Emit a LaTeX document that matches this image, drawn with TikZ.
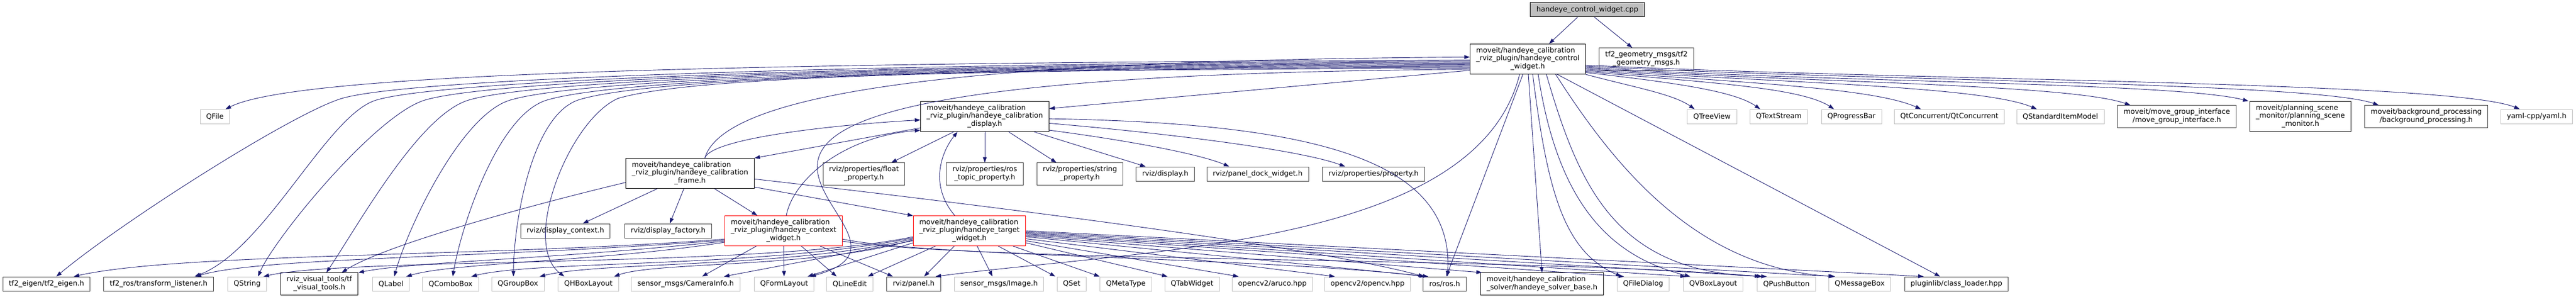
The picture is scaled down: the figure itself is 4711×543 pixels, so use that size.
\documentclass[tikz,border=0pt]{standalone}
\usepackage{fontspec}
\setmainfont{DejaVu Sans}
\usetikzlibrary{arrows.meta}
\definecolor{edgeblue}{HTML}{191970}
\definecolor{greyext}{HTML}{BFBFBF}
\definecolor{greytag}{HTML}{404040}
\newcommand{\lblfont}{\fontsize{13}{14.7}\selectfont}
\newcommand{\mlabel}[2]{\begin{tabular}{@{}l@{}}#1\\\multicolumn{1}{@{}c@{}}{#2}\end{tabular}}

\begin{document}
\begin{tikzpicture}[x=1pt, y=-1pt, >={Triangle[length=10pt,width=7pt]},
  hdr/.style={draw=black, fill=white, line width=1pt, font=\lblfont, inner xsep=11pt, inner ysep=5.5pt, minimum height=26pt},
  taghdr/.style={hdr, draw=greytag},
  syshdr/.style={hdr, draw=greyext},
  redhdr/.style={hdr, draw=red},
  srcfile/.style={hdr, fill=greyext},
  inc/.style={->, draw=edgeblue, line width=0.9pt}]
\useasboundingbox[fill=white] (0,0) rectangle (4711,543);
% nodes
\node[srcfile] (cpp) at (2903,18) {handeye\_control\_widget.cpp};
\node[hdr] (cw) at (2794,108) {\mlabel{moveit/handeye\_calibration\\\_rviz\_plugin/handeye\_control}{\_widget.h}};
\node[taghdr] (tfgeo) at (3011,108) {\mlabel{tf2\_geometry\_msgs/tf2}{\_geometry\_msgs.h}};
\node[hdr] (dsp) at (1801,213) {\mlabel{moveit/handeye\_calibration\\\_rviz\_plugin/handeye\_calibration}{\_display.h}};
\node[syshdr] (qfile) at (393,213) {QFile};
\node[syshdr] (qtree) at (3131,213) {QTreeView};
\node[syshdr] (qtext) at (3253,213) {QTextStream};
\node[syshdr] (qprog) at (3386,213) {QProgressBar};
\node[syshdr] (qconc) at (3565,213) {QtConcurrent/QtConcurrent};
\node[syshdr] (qsim) at (3768,213) {QStandardItemModel};
\node[taghdr] (mgi) at (3981,213) {\mlabel{moveit/move\_group\_interface}{/move\_group\_interface.h}};
\node[hdr] (psm) at (4207,213) {\mlabel{moveit/planning\_scene\\\_monitor/planning\_scene}{\_monitor.h}};
\node[taghdr] (bgp) at (4437,213) {\mlabel{moveit/background\_processing}{/background\_processing.h}};
\node[syshdr] (yaml) at (4639,213) {yaml-cpp/yaml.h};
\node[hdr] (frame) at (1262,317) {\mlabel{moveit/handeye\_calibration\\\_rviz\_plugin/handeye\_calibration}{\_frame.h}};
\node[taghdr] (flt) at (1580,318) {\mlabel{rviz/properties/float}{\_property.h}};
\node[taghdr] (rtp) at (1801,318) {\mlabel{rviz/properties/ros}{\_topic\_property.h}};
\node[taghdr] (strp) at (1975,318) {\mlabel{rviz/properties/string}{\_property.h}};
\node[taghdr] (rdisp) at (2131,318) {rviz/display.h};
\node[taghdr] (pdock) at (2300,318) {rviz/panel\_dock\_widget.h};
\node[taghdr] (prop) at (2512,318) {rviz/properties/property.h};
\node[taghdr] (dctx) at (1034,422) {rviz/display\_context.h};
\node[taghdr] (dfac) at (1222,422) {rviz/display\_factory.h};
\node[redhdr] (ctx) at (1433,422) {\mlabel{moveit/handeye\_calibration\\\_rviz\_plugin/handeye\_context}{\_widget.h}};
\node[redhdr] (tgt) at (1773,422) {\mlabel{moveit/handeye\_calibration\\\_rviz\_plugin/handeye\_target}{\_widget.h}};
\node[taghdr] (tfeig) at (85,519) {tf2\_eigen/tf2\_eigen.h};
\node[taghdr] (tfros) at (290,519) {tf2\_ros/transform\_listener.h};
\node[syshdr] (qstr) at (452,519) {QString};
\node[hdr] (tfvis) at (584,519) {\mlabel{rviz\_visual\_tools/tf}{\_visual\_tools.h}};
\node[syshdr] (qlab) at (715,519) {QLabel};
\node[syshdr] (qcombo) at (824,519) {QComboBox};
\node[syshdr] (qgroup) at (947,519) {QGroupBox};
\node[syshdr] (qhbox) at (1076,519) {QHBoxLayout};
\node[syshdr] (caminfo) at (1254,519) {sensor\_msgs/CameraInfo.h};
\node[syshdr] (qform) at (1434,519) {QFormLayout};
\node[syshdr] (qline) at (1554,519) {QLineEdit};
\node[taghdr] (panel) at (1671,519) {rviz/panel.h};
\node[syshdr] (img) at (1827,519) {sensor\_msgs/Image.h};
\node[syshdr] (qset) at (1960,519) {QSet};
\node[syshdr] (qmeta) at (2059,519) {QMetaType};
\node[syshdr] (qtab) at (2180,519) {QTabWidget};
\node[syshdr] (aruco) at (2327,519) {opencv2/aruco.hpp};
\node[syshdr] (opencv) at (2501,519) {opencv2/opencv.hpp};
\node[taghdr] (ros) at (2642,519) {ros/ros.h};
\node[hdr] (solver) at (2820,519) {\mlabel{moveit/handeye\_calibration}{\_solver/handeye\_solver\_base.h}};
\node[syshdr] (qfdlg) at (3005,519) {QFileDialog};
\node[syshdr] (qvbox) at (3133,519) {QVBoxLayout};
\node[syshdr] (qpush) at (3267,519) {QPushButton};
\node[syshdr] (qmsg) at (3401,519) {QMessageBox};
\node[taghdr] (plugin) at (3578,519) {pluginlib/class\_loader.hpp};
% arrows
\draw[inc] ([xshift=-18pt]cpp.south) -- ([xshift=39pt]cw.north);
\draw[inc] ([xshift=13pt]cpp.south) -- ([xshift=-26pt]tfgeo.north);
% control widget, to the left
\draw[inc] (cw.181) .. controls +(-1500,5) and +(120,-60) .. ([xshift=-8pt]qfile.north east);
\draw[inc] (cw.182) .. controls +(-800,2) and +(150,-45) .. (625,180) .. controls +(-90,27) and +(120,-100) .. ([xshift=18pt]tfeig.north);
\draw[inc] (cw.183) .. controls +(-800,2) and +(150,-45) .. (688,183) .. controls +(-90,27) and +(130,-50) .. ([xshift=66pt]tfros.north);
\draw[inc] (cw.184) .. controls +(-800,2) and +(150,-45) .. (777,183) .. controls +(-90,27) and +(30,-70) .. ([xshift=20pt]qstr.north);
\draw[inc] (cw.185) .. controls +(-800,2) and +(150,-45) .. (857,183) .. controls +(-90,27) and +(60,-90) .. ([xshift=13pt]tfvis.north);
\draw[inc] (cw.186) .. controls +(-800,2) and +(150,-45) .. (933,183) .. controls +(-90,27) and +(25,-90) .. ([xshift=6pt]qlab.north);
\draw[inc] (cw.187) .. controls +(-800,2) and +(150,-45) .. (1000,183) .. controls +(-90,27) and +(15,-90) .. ([xshift=4pt]qcombo.north);
\draw[inc] (cw.188) .. controls +(-800,2) and +(150,-45) .. (1060,182) .. controls +(-90,27) and +(0,-90) .. ([xshift=-8pt]qgroup.north);
\draw[inc] (cw.189) .. controls +(-800,2) and +(150,-45) .. (1130,180) .. controls +(-90,40) and +(-80,-60) .. ([xshift=-44pt]qhbox.north);
\draw[inc] (cw.190) .. controls +(-1889,13) and +(318,-86) .. ([xshift=48pt]qform.north);
\draw[inc] (cw.191) -- (dsp.7);
% control widget, downwards
\draw[inc] ([xshift=-15pt]cw.south) .. controls (2700,450) and (2100,455) .. ([xshift=40pt]panel.north);
\draw[inc] ([xshift=-9pt]cw.south) -- ([xshift=3pt]ros.north);
\draw[inc] ([xshift=1pt]cw.south) -- (solver.north);
\draw[inc] ([xshift=9pt]cw.south) .. controls (2830,350) and (2860,460) .. ([xshift=-40pt]qfdlg.north);
\draw[inc] ([xshift=19pt]cw.south) .. controls (2850,380) and (2950,470) .. ([xshift=-42pt]qvbox.north);
\draw[inc] ([xshift=34pt]cw.south) .. controls (2890,350) and (2960,500) .. ([xshift=-36pt]qpush.north);
\draw[inc] ([xshift=51pt]cw.south) .. controls (2950,300) and (3100,490) .. ([xshift=-45pt]qmsg.north);
\draw[inc] ([xshift=54pt]cw.south) -- ([xshift=-30pt]plugin.north);
% control widget, to the right
\draw[inc] (cw.south east) .. controls (2990,160) and (3060,172) .. ([xshift=-32pt]qtree.north);
\draw[inc] (cw.-13) .. controls (3050,150) and (3170,165) .. ([xshift=-34pt]qtext.north);
\draw[inc] (cw.-12) .. controls (3100,150) and (3290,158) .. ([xshift=-32pt]qprog.north);
\draw[inc] (cw.-11) .. controls (3150,150) and (3420,158) .. ([xshift=-52pt]qconc.north);
\draw[inc] (cw.-10) .. controls (3200,150) and (3620,155) .. ([xshift=-43pt]qsim.north);
\draw[inc] (cw.-9) .. controls (3250,150) and (3780,152) .. ([xshift=-85pt]mgi.north);
\draw[inc] (cw.-8) .. controls (3300,150) and (3980,150) .. ([xshift=-95pt]psm.north);
\draw[inc] (cw.-7) .. controls (3400,148) and (4230,150) .. ([xshift=-87pt]bgp.north);
\draw[inc] (cw.-6) .. controls (3500,148) and (4480,148) .. ([xshift=-31pt]yaml.north);
% display header
\draw[inc] (dsp) -- ([xshift=50pt]flt.north);
\draw[inc] (dsp) -- (rtp);
\draw[inc] (dsp) -- ([xshift=-43pt]strp.north);
\draw[inc] (dsp) -- ([xshift=-36pt]rdisp.north);
\draw[inc] (dsp.-12) .. controls (2050,255) and (2190,280) .. ([xshift=-52pt]pdock.north);
\draw[inc] (dsp.-6) .. controls (2150,245) and (2380,275) .. ([xshift=-52pt]prop.north);
\draw[inc] (dsp.-2) .. controls (2400,225) and (2660,290) .. ([xshift=5pt]ros.north);
\draw[inc] (dsp.190) -- (frame.north east);
% frame header
\draw[inc] ([xshift=27pt]frame.north) .. controls (1300,255) and (1500,230) .. (dsp.183);
\draw[inc] ([xshift=27pt]frame.north) .. controls (1330,150) and (1900,110) .. (cw.178);
\draw[inc] (frame) -- ([xshift=32pt]dctx.north);
\draw[inc] (frame) -- ([xshift=3pt]dfac.north);
\draw[inc] (frame) -- ([xshift=-48pt]ctx.north);
\draw[inc] (frame.-12) -- (tgt.165);
\draw[inc] (frame.-5) .. controls (1800,375) and (2400,450) .. ([xshift=-38pt]ros.north);
\draw[inc] (frame.188) .. controls (950,380) and (700,450) .. ([xshift=41pt]tfvis.north);
% context widget
\draw[inc] ([xshift=5pt]ctx.north) .. controls (1450,330) and (1540,250) .. (dsp.192);
\draw[inc] (ctx.188) .. controls (900,470) and (330,462) .. ([xshift=50pt]tfeig.north);
\draw[inc] (ctx.189) .. controls (900,472) and (480,470) .. ([xshift=68pt]tfros.north);
\draw[inc] (ctx.190) .. controls (1000,475) and (760,478) .. (tfvis.north east);
\draw[inc] (ctx.191) .. controls (1100,478) and (830,480) .. ([xshift=28pt]qlab.north);
\draw[inc] (ctx) -- ([xshift=30pt]caminfo.north);
\draw[inc] (ctx) -- (qform);
\draw[inc] (ctx) -- ([xshift=-24pt]qline.north);
\draw[inc] (ctx) -- ([xshift=-38pt]panel.north);
\draw[inc] (ctx.-8) .. controls (1700,470) and (2300,470) .. ([xshift=-36pt]ros.north);
\draw[inc] (ctx.-10) .. controls (1800,480) and (2800,470) .. ([xshift=-48pt]qpush.north);
% target widget
\draw[inc] ([xshift=-27pt]tgt.north) .. controls (1700,340) and (1720,280) .. ([xshift=-50pt]dsp.south);
\draw[inc] (tgt.186) .. controls (1400,490) and (640,470) .. ([xshift=30pt]qstr.north);
\draw[inc] (tgt.187) .. controls (1400,490) and (980,476) .. ([xshift=38pt]qcombo.north);
\draw[inc] (tgt.188) .. controls (1450,490) and (1100,478) .. ([xshift=40pt]qgroup.north);
\draw[inc] (tgt.189) .. controls (1500,490) and (1200,478) .. ([xshift=47pt]qhbox.north);
\draw[inc] (tgt.190) -- ([xshift=70pt]caminfo.north);
\draw[inc] (tgt.192) -- ([xshift=43pt]qform.north);
\draw[inc] (tgt) -- ([xshift=33pt]qline.north);
\draw[inc] (tgt) -- ([xshift=19pt]panel.north);
\draw[inc] (tgt) -- ([xshift=-12pt]img.north);
\draw[inc] (tgt) -- ([xshift=-30pt]qset.north);
\draw[inc] (tgt) -- ([xshift=-48pt]qmeta.north);
\draw[inc] (tgt.-12) -- ([xshift=-45pt]qtab.north);
\draw[inc] (tgt.-10) -- ([xshift=-62pt]aruco.north);
\draw[inc] (tgt.-8) -- ([xshift=-60pt]opencv.north);
\draw[inc] (tgt.-6) -- ([xshift=-30pt]ros.north);
\draw[inc] (tgt.-5) -- ([xshift=-110pt]solver.north);
\draw[inc] (tgt.-4) -- ([xshift=-35pt]qfdlg.north);
\draw[inc] (tgt.-3) -- ([xshift=-50pt]qvbox.north);
\draw[inc] (tgt.-2) -- ([xshift=-44pt]qpush.north);
\draw[inc] (tgt.-1) -- ([xshift=-47pt]qmsg.north);
\draw[inc] (tgt.0) -- ([xshift=-60pt]plugin.north);
\end{tikzpicture}
\end{document}
